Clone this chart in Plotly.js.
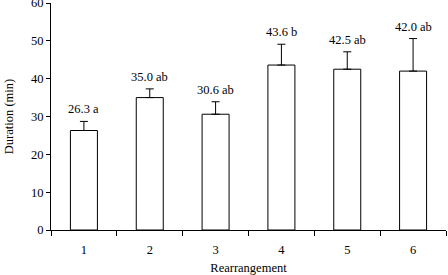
<!DOCTYPE html>
<html><head><meta charset="utf-8">
<script src="https://cdn.plot.ly/plotly-3.0.1.min.js"></script>
<style>html,body{margin:0;padding:0;background:#fff}</style>
</head><body><div id="chart" style="width:448px;height:275px"></div>
<script>
var categories = ["1","2","3","4","5","6"];
var durations = [26.3, 35.0, 30.6, 43.6, 42.5, 42.0];
var errors = [2.4, 2.3, 3.3, 5.5, 4.6, 8.6];
var groups = ["a","ab","ab","b","ab","ab"];

var font = {family: "Liberation Serif, Times New Roman, serif", size: 12.5, color: "#000"};

var trace = {
  type: "bar", x: categories, y: durations, width: 0.41,
  marker: {color: "#fff", line: {color: "#000", width: 1}},
  error_y: {type: "data", symmetric: false, array: errors, arrayminus: errors.map(function(){return 0;}),
            color: "#000", thickness: 1, width: 4},
  hoverinfo: "none"
};

var annotations = categories.map(function(c, i){
  return {x: i, y: durations[i] + errors[i], xref: "x", yref: "y",
          text: durations[i].toFixed(1) + " " + groups[i],
          showarrow: false, yanchor: "bottom", yshift: 3, font: font};
});

var layout = {
  width: 448, height: 275,
  margin: {l: 51, r: 2, t: 3, b: 45},
  paper_bgcolor: "#fff", plot_bgcolor: "#fff",
  showlegend: false, font: font,
  xaxis: {type: "category", tickson: "boundaries", ticks: "outside", ticklen: 5, tickcolor: "#000",
          showline: true, linecolor: "#000", linewidth: 1, showgrid: false, zeroline: false,
          automargin: false, ticklabelstandoff: 8,
          tickfont: font, title: {text: "Rearrangement", font: font, standoff: 10}},
  yaxis: {range: [0, 60], dtick: 10, ticks: "outside", ticklen: 4, tickcolor: "#000",
          showline: true, linecolor: "#000", linewidth: 1, showgrid: false, zeroline: false,
          automargin: false, ticklabeloverflow: "allow",
          tickfont: font, title: {text: "Duration (min)", font: font, standoff: 14}},
  annotations: annotations
};

Plotly.newPlot("chart", [trace], layout, {staticPlot: true});
</script></body></html>
